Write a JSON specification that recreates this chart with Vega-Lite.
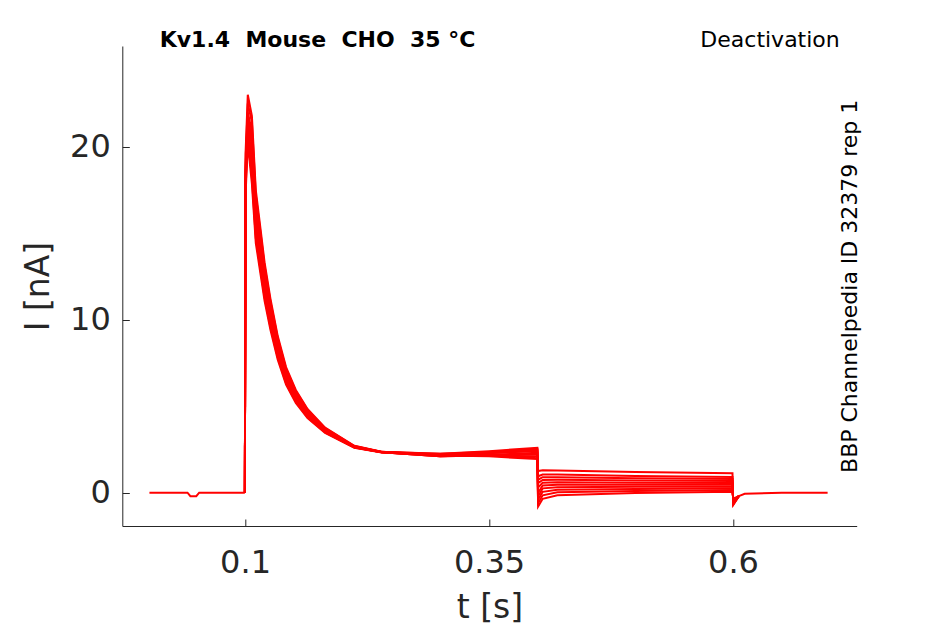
{
  "$schema": "https://vega.github.io/schema/vega-lite/v6.json",
  "autosize": {"type": "none"},
  "padding": {"left": 122.3, "top": 46, "right": 88.3, "bottom": 98},
  "width": 734.4,
  "height": 480,
  "background": "white",
  "config": {
    "view": {"stroke": null},
    "font": "DejaVu Sans",
    "axis": {
      "grid": false,
      "domainColor": "#262626",
      "domainWidth": 1,
      "tickColor": "#262626",
      "tickWidth": 1,
      "tickSize": -7,
      "labelColor": "#262626",
      "labelFont": "DejaVu Sans",
      "labelFontSize": 32,
      "titleColor": "#262626",
      "titleFont": "DejaVu Sans",
      "titleFontSize": 33,
      "titleFontWeight": "normal"
    }
  },
  "datasets": {
    "traces": [
      {"trace": "base", "t": 0.002, "I": 0},
      {"trace": "base", "t": 0.041, "I": 0},
      {"trace": "base", "t": 0.044, "I": -0.2},
      {"trace": "base", "t": 0.05, "I": -0.2},
      {"trace": "base", "t": 0.053, "I": 0},
      {"trace": "base", "t": 0.0998, "I": 0},

      {"trace": "k1", "t": 0.0998, "I": 0},
      {"trace": "k1", "t": 0.1005, "I": 19.6},
      {"trace": "k1", "t": 0.1028, "I": 23.0},
      {"trace": "k1", "t": 0.107, "I": 21.78},
      {"trace": "k1", "t": 0.111, "I": 17.49},
      {"trace": "k1", "t": 0.116, "I": 15.18},
      {"trace": "k1", "t": 0.12, "I": 13.31},
      {"trace": "k1", "t": 0.126, "I": 11.22},
      {"trace": "k1", "t": 0.1335, "I": 9.05},
      {"trace": "k1", "t": 0.142, "I": 7.26},
      {"trace": "k1", "t": 0.152, "I": 5.94},
      {"trace": "k1", "t": 0.164, "I": 4.84},
      {"trace": "k1", "t": 0.182, "I": 3.76},
      {"trace": "k1", "t": 0.212, "I": 2.71},
      {"trace": "k1", "t": 0.24, "I": 2.37},
      {"trace": "k1", "t": 0.3, "I": 2.25},
      {"trace": "k1", "t": 0.35, "I": 2.35},
      {"trace": "k1", "t": 0.3995, "I": 2.55},
      {"trace": "k1", "t": 0.4003, "I": 1.25},
      {"trace": "k1", "t": 0.405, "I": 1.3},
      {"trace": "k1", "t": 0.42, "I": 1.28},
      {"trace": "k1", "t": 0.5, "I": 1.2},
      {"trace": "k1", "t": 0.5995, "I": 1.12},
      {"trace": "k1", "t": 0.6003, "I": -0.7},
      {"trace": "k1", "t": 0.606, "I": -0.2},

      {"trace": "k2", "t": 0.0998, "I": 0},
      {"trace": "k2", "t": 0.1005, "I": 17.2},
      {"trace": "k2", "t": 0.1028, "I": 20.2},
      {"trace": "k2", "t": 0.107, "I": 17.86},
      {"trace": "k2", "t": 0.111, "I": 14.43},
      {"trace": "k2", "t": 0.116, "I": 12.58},
      {"trace": "k2", "t": 0.12, "I": 11.09},
      {"trace": "k2", "t": 0.126, "I": 9.42},
      {"trace": "k2", "t": 0.1335, "I": 7.68},
      {"trace": "k2", "t": 0.142, "I": 6.25},
      {"trace": "k2", "t": 0.152, "I": 5.19},
      {"trace": "k2", "t": 0.164, "I": 4.31},
      {"trace": "k2", "t": 0.182, "I": 3.45},
      {"trace": "k2", "t": 0.212, "I": 2.6},
      {"trace": "k2", "t": 0.24, "I": 2.33},
      {"trace": "k2", "t": 0.3, "I": 2.2},
      {"trace": "k2", "t": 0.35, "I": 2.3},
      {"trace": "k2", "t": 0.3995, "I": 2.45},
      {"trace": "k2", "t": 0.4003, "I": -0.8},
      {"trace": "k2", "t": 0.405, "I": -0.35},
      {"trace": "k2", "t": 0.42, "I": -0.15},
      {"trace": "k2", "t": 0.5, "I": -0.02},
      {"trace": "k2", "t": 0.5995, "I": 0.05},
      {"trace": "k2", "t": 0.6003, "I": -0.35},
      {"trace": "k2", "t": 0.606, "I": -0.2},

      {"trace": "k3", "t": 0.0998, "I": 0},
      {"trace": "k3", "t": 0.1005, "I": 18.7},
      {"trace": "k3", "t": 0.1028, "I": 22.0},
      {"trace": "k3", "t": 0.107, "I": 20.89},
      {"trace": "k3", "t": 0.111, "I": 16.8},
      {"trace": "k3", "t": 0.116, "I": 14.59},
      {"trace": "k3", "t": 0.12, "I": 12.81},
      {"trace": "k3", "t": 0.126, "I": 10.81},
      {"trace": "k3", "t": 0.1335, "I": 8.74},
      {"trace": "k3", "t": 0.142, "I": 7.03},
      {"trace": "k3", "t": 0.152, "I": 5.77},
      {"trace": "k3", "t": 0.164, "I": 4.72},
      {"trace": "k3", "t": 0.182, "I": 3.69},
      {"trace": "k3", "t": 0.212, "I": 2.68},
      {"trace": "k3", "t": 0.24, "I": 2.36},
      {"trace": "k3", "t": 0.3, "I": 2.15},
      {"trace": "k3", "t": 0.35, "I": 2.2},
      {"trace": "k3", "t": 0.3995, "I": 2.3},
      {"trace": "k3", "t": 0.4003, "I": 0.3},
      {"trace": "k3", "t": 0.405, "I": 0.58},
      {"trace": "k3", "t": 0.42, "I": 0.6},
      {"trace": "k3", "t": 0.5, "I": 0.58},
      {"trace": "k3", "t": 0.5995, "I": 0.56},
      {"trace": "k3", "t": 0.6003, "I": -0.6},
      {"trace": "k3", "t": 0.606, "I": -0.2},

      {"trace": "k4", "t": 0.0998, "I": 0},
      {"trace": "k4", "t": 0.1005, "I": 17.9},
      {"trace": "k4", "t": 0.1028, "I": 21.0},
      {"trace": "k4", "t": 0.107, "I": 18.93},
      {"trace": "k4", "t": 0.111, "I": 15.27},
      {"trace": "k4", "t": 0.116, "I": 13.29},
      {"trace": "k4", "t": 0.12, "I": 11.69},
      {"trace": "k4", "t": 0.126, "I": 9.91},
      {"trace": "k4", "t": 0.1335, "I": 8.06},
      {"trace": "k4", "t": 0.142, "I": 6.52},
      {"trace": "k4", "t": 0.152, "I": 5.4},
      {"trace": "k4", "t": 0.164, "I": 4.46},
      {"trace": "k4", "t": 0.182, "I": 3.53},
      {"trace": "k4", "t": 0.212, "I": 2.63},
      {"trace": "k4", "t": 0.24, "I": 2.34},
      {"trace": "k4", "t": 0.3, "I": 2.1},
      {"trace": "k4", "t": 0.35, "I": 2.15},
      {"trace": "k4", "t": 0.3995, "I": 2.0},
      {"trace": "k4", "t": 0.4003, "I": -0.4},
      {"trace": "k4", "t": 0.405, "I": 0.05},
      {"trace": "k4", "t": 0.42, "I": 0.17},
      {"trace": "k4", "t": 0.5, "I": 0.22},
      {"trace": "k4", "t": 0.5995, "I": 0.25},
      {"trace": "k4", "t": 0.6003, "I": -0.45},
      {"trace": "k4", "t": 0.606, "I": -0.2},

      {"trace": "k5", "t": 0.0998, "I": 0},
      {"trace": "k5", "t": 0.1005, "I": 18.4},
      {"trace": "k5", "t": 0.1028, "I": 21.6},
      {"trace": "k5", "t": 0.107, "I": 20.0},
      {"trace": "k5", "t": 0.111, "I": 16.1},
      {"trace": "k5", "t": 0.116, "I": 14.0},
      {"trace": "k5", "t": 0.12, "I": 12.3},
      {"trace": "k5", "t": 0.126, "I": 10.4},
      {"trace": "k5", "t": 0.1335, "I": 8.43},
      {"trace": "k5", "t": 0.142, "I": 6.8},
      {"trace": "k5", "t": 0.152, "I": 5.6},
      {"trace": "k5", "t": 0.164, "I": 4.6},
      {"trace": "k5", "t": 0.182, "I": 3.62},
      {"trace": "k5", "t": 0.212, "I": 2.66},
      {"trace": "k5", "t": 0.24, "I": 2.35},
      {"trace": "k5", "t": 0.3, "I": 2.2},
      {"trace": "k5", "t": 0.35, "I": 2.3},
      {"trace": "k5", "t": 0.3995, "I": 2.5},
      {"trace": "k5", "t": 0.4003, "I": 0.75},
      {"trace": "k5", "t": 0.405, "I": 0.9},
      {"trace": "k5", "t": 0.42, "I": 0.9},
      {"trace": "k5", "t": 0.5, "I": 0.84},
      {"trace": "k5", "t": 0.5995, "I": 0.79},
      {"trace": "k5", "t": 0.6003, "I": -0.65},
      {"trace": "k5", "t": 0.606, "I": -0.2},

      {"trace": "k6", "t": 0.0998, "I": 0},
      {"trace": "k6", "t": 0.1005, "I": 17.5},
      {"trace": "k6", "t": 0.1028, "I": 20.6},
      {"trace": "k6", "t": 0.107, "I": 18.22},
      {"trace": "k6", "t": 0.111, "I": 14.71},
      {"trace": "k6", "t": 0.116, "I": 12.82},
      {"trace": "k6", "t": 0.12, "I": 11.29},
      {"trace": "k6", "t": 0.126, "I": 9.58},
      {"trace": "k6", "t": 0.1335, "I": 7.81},
      {"trace": "k6", "t": 0.142, "I": 6.34},
      {"trace": "k6", "t": 0.152, "I": 5.26},
      {"trace": "k6", "t": 0.164, "I": 4.36},
      {"trace": "k6", "t": 0.182, "I": 3.48},
      {"trace": "k6", "t": 0.212, "I": 2.61},
      {"trace": "k6", "t": 0.24, "I": 2.34},
      {"trace": "k6", "t": 0.3, "I": 2.15},
      {"trace": "k6", "t": 0.35, "I": 2.1},
      {"trace": "k6", "t": 0.3995, "I": 1.95},
      {"trace": "k6", "t": 0.4003, "I": -0.6},
      {"trace": "k6", "t": 0.405, "I": -0.15},
      {"trace": "k6", "t": 0.42, "I": 0.02},
      {"trace": "k6", "t": 0.5, "I": 0.1},
      {"trace": "k6", "t": 0.5995, "I": 0.15},
      {"trace": "k6", "t": 0.6003, "I": -0.4},
      {"trace": "k6", "t": 0.606, "I": -0.2},

      {"trace": "k7", "t": 0.0998, "I": 0},
      {"trace": "k7", "t": 0.1005, "I": 19.1},
      {"trace": "k7", "t": 0.1028, "I": 22.5},
      {"trace": "k7", "t": 0.107, "I": 21.42},
      {"trace": "k7", "t": 0.111, "I": 17.21},
      {"trace": "k7", "t": 0.116, "I": 14.94},
      {"trace": "k7", "t": 0.12, "I": 13.11},
      {"trace": "k7", "t": 0.126, "I": 11.06},
      {"trace": "k7", "t": 0.1335, "I": 8.93},
      {"trace": "k7", "t": 0.142, "I": 7.17},
      {"trace": "k7", "t": 0.152, "I": 5.87},
      {"trace": "k7", "t": 0.164, "I": 4.79},
      {"trace": "k7", "t": 0.182, "I": 3.73},
      {"trace": "k7", "t": 0.212, "I": 2.7},
      {"trace": "k7", "t": 0.24, "I": 2.36},
      {"trace": "k7", "t": 0.3, "I": 2.2},
      {"trace": "k7", "t": 0.35, "I": 2.3},
      {"trace": "k7", "t": 0.3995, "I": 2.4},
      {"trace": "k7", "t": 0.4003, "I": 0.95},
      {"trace": "k7", "t": 0.405, "I": 1.05},
      {"trace": "k7", "t": 0.42, "I": 1.05},
      {"trace": "k7", "t": 0.5, "I": 0.97},
      {"trace": "k7", "t": 0.5995, "I": 0.91},
      {"trace": "k7", "t": 0.6003, "I": -0.7},
      {"trace": "k7", "t": 0.606, "I": -0.2},

      {"trace": "k8", "t": 0.0998, "I": 0},
      {"trace": "k8", "t": 0.1005, "I": 18.1},
      {"trace": "k8", "t": 0.1028, "I": 21.3},
      {"trace": "k8", "t": 0.107, "I": 19.29},
      {"trace": "k8", "t": 0.111, "I": 15.54},
      {"trace": "k8", "t": 0.116, "I": 13.53},
      {"trace": "k8", "t": 0.12, "I": 11.9},
      {"trace": "k8", "t": 0.126, "I": 10.07},
      {"trace": "k8", "t": 0.1335, "I": 8.18},
      {"trace": "k8", "t": 0.142, "I": 6.62},
      {"trace": "k8", "t": 0.152, "I": 5.46},
      {"trace": "k8", "t": 0.164, "I": 4.5},
      {"trace": "k8", "t": 0.182, "I": 3.56},
      {"trace": "k8", "t": 0.212, "I": 2.64},
      {"trace": "k8", "t": 0.24, "I": 2.34},
      {"trace": "k8", "t": 0.3, "I": 2.1},
      {"trace": "k8", "t": 0.35, "I": 2.2},
      {"trace": "k8", "t": 0.3995, "I": 2.2},
      {"trace": "k8", "t": 0.4003, "I": -0.2},
      {"trace": "k8", "t": 0.405, "I": 0.25},
      {"trace": "k8", "t": 0.42, "I": 0.32},
      {"trace": "k8", "t": 0.5, "I": 0.34},
      {"trace": "k8", "t": 0.5995, "I": 0.36},
      {"trace": "k8", "t": 0.6003, "I": -0.5},
      {"trace": "k8", "t": 0.606, "I": -0.2},

      {"trace": "k9", "t": 0.0998, "I": 0},
      {"trace": "k9", "t": 0.1005, "I": 18.5},
      {"trace": "k9", "t": 0.1028, "I": 21.8},
      {"trace": "k9", "t": 0.107, "I": 20.36},
      {"trace": "k9", "t": 0.111, "I": 16.38},
      {"trace": "k9", "t": 0.116, "I": 14.24},
      {"trace": "k9", "t": 0.12, "I": 12.5},
      {"trace": "k9", "t": 0.126, "I": 10.56},
      {"trace": "k9", "t": 0.1335, "I": 8.55},
      {"trace": "k9", "t": 0.142, "I": 6.89},
      {"trace": "k9", "t": 0.152, "I": 5.67},
      {"trace": "k9", "t": 0.164, "I": 4.65},
      {"trace": "k9", "t": 0.182, "I": 3.65},
      {"trace": "k9", "t": 0.212, "I": 2.67},
      {"trace": "k9", "t": 0.24, "I": 2.35},
      {"trace": "k9", "t": 0.3, "I": 2.25},
      {"trace": "k9", "t": 0.35, "I": 2.4},
      {"trace": "k9", "t": 0.3995, "I": 2.6},
      {"trace": "k9", "t": 0.4003, "I": 0.55},
      {"trace": "k9", "t": 0.405, "I": 0.74},
      {"trace": "k9", "t": 0.42, "I": 0.75},
      {"trace": "k9", "t": 0.5, "I": 0.71},
      {"trace": "k9", "t": 0.5995, "I": 0.67},
      {"trace": "k9", "t": 0.6003, "I": -0.6},
      {"trace": "k9", "t": 0.606, "I": -0.2},

      {"trace": "k10", "t": 0.0998, "I": 0},
      {"trace": "k10", "t": 0.1005, "I": 17.8},
      {"trace": "k10", "t": 0.1028, "I": 20.9},
      {"trace": "k10", "t": 0.107, "I": 18.58},
      {"trace": "k10", "t": 0.111, "I": 14.99},
      {"trace": "k10", "t": 0.116, "I": 13.06},
      {"trace": "k10", "t": 0.12, "I": 11.49},
      {"trace": "k10", "t": 0.126, "I": 9.74},
      {"trace": "k10", "t": 0.1335, "I": 7.93},
      {"trace": "k10", "t": 0.142, "I": 6.43},
      {"trace": "k10", "t": 0.152, "I": 5.33},
      {"trace": "k10", "t": 0.164, "I": 4.41},
      {"trace": "k10", "t": 0.182, "I": 3.51},
      {"trace": "k10", "t": 0.212, "I": 2.62},
      {"trace": "k10", "t": 0.24, "I": 2.34},
      {"trace": "k10", "t": 0.3, "I": 2.1},
      {"trace": "k10", "t": 0.35, "I": 2.15},
      {"trace": "k10", "t": 0.3995, "I": 2.1},
      {"trace": "k10", "t": 0.4003, "I": 0.0},
      {"trace": "k10", "t": 0.405, "I": 0.42},
      {"trace": "k10", "t": 0.42, "I": 0.46},
      {"trace": "k10", "t": 0.5, "I": 0.46},
      {"trace": "k10", "t": 0.5995, "I": 0.46},
      {"trace": "k10", "t": 0.6003, "I": -0.55},
      {"trace": "k10", "t": 0.606, "I": -0.2},

      {"trace": "tail", "t": 0.606, "I": -0.2},
      {"trace": "tail", "t": 0.612, "I": -0.06},
      {"trace": "tail", "t": 0.65, "I": 0},
      {"trace": "tail", "t": 0.697, "I": 0}
    ]
  },
  "encoding": {
    "x": {
      "field": "t",
      "type": "quantitative",
      "scale": {"domain": [-0.0258, 0.7268], "nice": false, "zero": false},
      "axis": {
        "title": "t [s]",
        "values": [0.1, 0.35, 0.6],
        "labelExpr": "toString(datum.value)",
        "labelPadding": 28,
        "titlePadding": 13
      }
    },
    "y": {
      "field": "I",
      "type": "quantitative",
      "scale": {"domain": [-1.925, 25.82], "nice": false, "zero": false},
      "axis": {
        "title": "I [nA]",
        "values": [0, 10, 20],
        "format": "d",
        "labelPadding": 19,
        "titlePadding": 14
      }
    }
  },
  "layer": [
    {
      "data": {"name": "traces"},
      "mark": {"type": "line", "color": "#ff0000", "strokeWidth": 2, "clip": true},
      "encoding": {"detail": {"field": "trace"}}
    },
    {
      "data": {"values": [{"t": 0.1743, "I": 25.75, "label": "Kv1.4\u00a0\u00a0Mouse\u00a0\u00a0CHO\u00a0\u00a035 °C"}]},
      "mark": {"type": "text", "font": "DejaVu Sans", "fontSize": 22, "fontWeight": "bold", "color": "black", "align": "center", "baseline": "alphabetic"},
      "encoding": {"text": {"field": "label"}}
    },
    {
      "data": {"values": [{"t": 0.638, "I": 25.75, "label": "Deactivation"}]},
      "mark": {"type": "text", "font": "DejaVu Sans", "fontSize": 22, "color": "black", "align": "center", "baseline": "alphabetic"},
      "encoding": {"text": {"field": "label"}}
    },
    {
      "data": {"values": [{"t": 0.7267, "I": 11.93, "label": "BBP Channelpedia ID 32379 rep 1"}]},
      "mark": {"type": "text", "font": "DejaVu Sans", "fontSize": 22, "color": "black", "align": "center", "baseline": "alphabetic", "angle": 270},
      "encoding": {"text": {"field": "label"}}
    }
  ]
}
